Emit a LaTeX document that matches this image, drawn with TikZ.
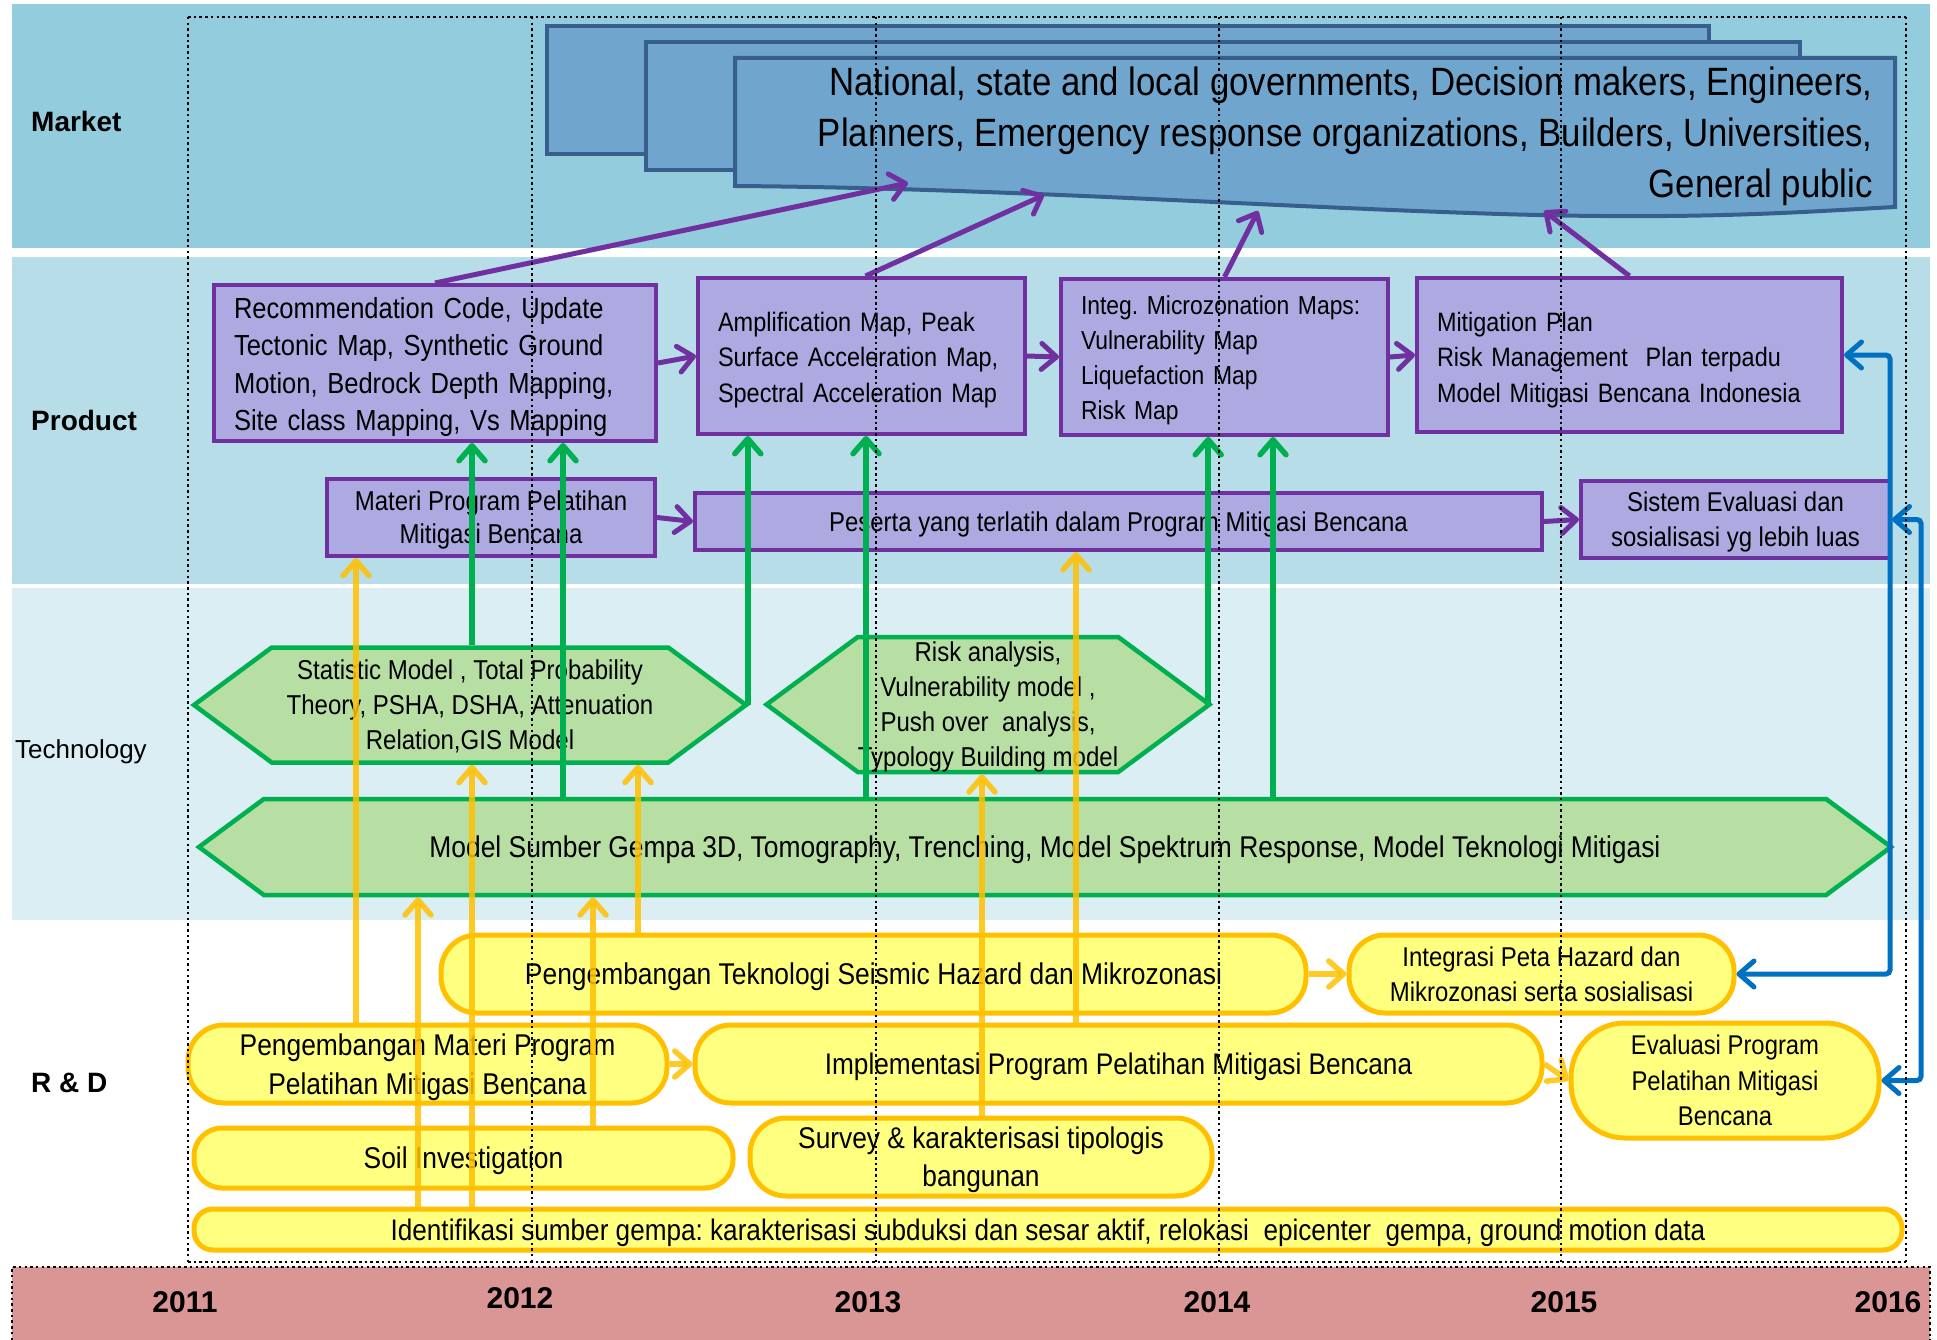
\documentclass[tikz,border=0pt]{standalone}
\usepackage{fontspec}
\setmainfont{Liberation Sans}[FakeStretch=0.88]
\newfontfamily\labelfont{Liberation Sans}
\usetikzlibrary{arrows.meta,shapes.symbols,calc}
\newcommand{\setfs}[2]{\fontsize{#1}{#2}\selectfont}
\frenchspacing

\definecolor{mktband}{RGB}{147,205,221}
\definecolor{prdband}{RGB}{183,222,232}
\definecolor{tecband}{RGB}{218,238,243}
\definecolor{yearband}{RGB}{217,150,148}
\definecolor{mktfill}{RGB}{112,166,206}
\definecolor{mktline}{RGB}{56,94,141}
\definecolor{prdfill}{RGB}{172,170,224}
\definecolor{prdline}{RGB}{112,48,160}
\definecolor{hexfill}{RGB}{183,222,163}
\definecolor{hexline}{RGB}{0,176,80}
\definecolor{rdfill}{RGB}{255,255,128}
\definecolor{rdline}{RGB}{255,192,0}
\definecolor{fbline}{RGB}{0,112,192}

\tikzset{
  rowlbl/.style={anchor=west, inner sep=0pt, font=\labelfont\bfseries\setfs{28}{30}},
  yearlbl/.style={inner sep=0pt, font=\labelfont\bfseries\setfs{30}{32}},
  mktbox/.style={draw=mktline, fill=mktfill, line width=4pt},
  prodbox/.style={draw=prdline, fill=prdfill, line width=4pt, inner sep=0pt},
  hexbox/.style={shape=signal, signal to=east and west, signal pointer angle=73,
    draw=hexline, fill=hexfill, line width=4.5pt, inner sep=0pt, align=center, text depth=0pt},
  rdbox/.style={draw=rdline, fill=rdfill, line width=5pt, inner sep=0pt, align=center, text depth=0pt},
  tip/.style={-{Straight Barb[length=15pt,width=26pt,round]}},
  purplink/.style={draw=prdline, line width=5pt, tip},
  greenlink/.style={draw=hexline, line width=5.5pt, tip},
  yellowlink/.style={draw=rdline, draw opacity=0.85, line width=5.5pt, tip},
  bluelink/.style={draw=fbline, line width=5pt, rounded corners=4pt,
    {Straight Barb[length=15pt,width=26pt,round]}-{Straight Barb[length=15pt,width=26pt,round]}},
  gridline/.style={draw=black, line width=2.2pt, dash pattern=on 2.5pt off 3.2pt}
}

\begin{document}
\begin{tikzpicture}[x=1pt, y=-1pt]
\useasboundingbox (0,0) rectangle (1937,1340);

% horizontal bands
\fill[mktband] (12,4) rectangle (1930,248);
\fill[prdband] (12,257) rectangle (1930,584);
\fill[tecband] (12,588) rectangle (1930,920);
\fill[yearband] (12,1267) rectangle (1930,1340);
\draw[gridline, line width=1.5pt] (12,1340) -- (12,1267) -- (1930,1267) -- (1930,1340);

% row labels
\node[rowlbl] (lmarket) at (31,121) {Market};
\node[rowlbl] (lproduct) at (31,420) {Product};
\node[rowlbl, font=\labelfont\setfs{26}{28}] (ltech) at (15,752) {Technology};
\node[rowlbl] (lrd) at (31,1083) {R \& D};

% years
\node[yearlbl] (y2011) at (185,1302) {2011};
\node[yearlbl] (y2012) at (520,1298) {2012};
\node[yearlbl] (y2013) at (868,1302) {2013};
\node[yearlbl] (y2014) at (1217,1302) {2014};
\node[yearlbl] (y2015) at (1564,1302) {2015};
\node[yearlbl] (y2016) at (1888,1302) {2016};

% market: stacked document shapes
\draw[mktbox] (547,26) rectangle (1709,154);
\draw[mktbox] (646,42) rectangle (1800,170);
\draw[mktbox] (735,186) -- (735,58) -- (1895,58) -- (1895,207)
  .. controls (1800,212) and (1700,220) .. (1500,214)
  .. controls (1250,206) and (1000,188) .. cycle;
\node[align=right, anchor=east, inner sep=0pt, font=\setfs{39.5}{51}] (MK) at (1873,136)
  {National, state and local governments, Decision makers, Engineers,\\
   Planners, Emergency response organizations, Builders, Universities,\\
   General public};
\coordinate (m1) at (908,183);
\coordinate (m2) at (1044,195);
\coordinate (m3) at (1258,211);
\coordinate (m4) at (1544,211);

% products
\node[prodbox, minimum width=442, minimum height=156, text width=402, align=left,
  text depth=111pt, font=\setfs{29}{37.5}] (P1) at (435,363)
  {Recommendation Code, Update\\Tectonic Map, Synthetic Ground\\Motion, Bedrock Depth Mapping,\\Site class Mapping, Vs Mapping};
\node[prodbox, minimum width=327, minimum height=156, text width=287, align=left,
  text depth=69pt, font=\setfs{26.7}{35.5}] (P2) at (861.5,356)
  {Amplification Map, Peak\\Surface Acceleration Map,\\Spectral Acceleration Map};
\node[prodbox, minimum width=327, minimum height=156, text width=287, align=left,
  text depth=103pt, font=\setfs{26}{35}] (P3) at (1224.5,357)
  {Integ. Microzonation Maps:\\Vulnerability Map\\Liquefaction Map\\Risk Map};
\node[prodbox, minimum width=425, minimum height=154, text width=385, align=left,
  text depth=67pt, font=\setfs{26.6}{35.5}] (P4) at (1629.5,355)
  {Mitigation Plan\\Risk Management\ \ Plan terpadu\\Model Mitigasi Bencana Indonesia};
\node[prodbox, minimum width=328, minimum height=77, align=center, text depth=0pt,
  font=\setfs{27.3}{33}] (P5) at (491,517.5)
  {Materi Program Pelatihan\\Mitigasi Bencana};
\node[prodbox, minimum width=847, minimum height=57, align=center, text depth=0pt,
  font=\setfs{27.2}{33}] (P6) at (1118.5,521.5)
  {Peserta yang terlatih dalam Program Mitigasi Bencana};
\node[prodbox, minimum width=309, minimum height=77, align=center, text depth=0pt,
  font=\setfs{27.2}{35}] (P7) at (1735.5,519.5)
  {Sistem Evaluasi dan\\sosialisasi yg lebih luas};

% technologies
\node[hexbox, minimum width=552, minimum height=115, text depth=-10pt, font=\setfs{27.3}{35}] (T1) at (470,705)
  {Statistic Model , Total Probability\\Theory, PSHA, DSHA, Attenuation\\Relation,GIS Model};
\node[hexbox, minimum width=442, minimum height=135, font=\setfs{27.3}{35}] (T2) at (988,704.5)
  {Risk analysis,\\Vulnerability model ,\\Push over\ \ analysis,\\Typology Building model};
\node[hexbox, minimum width=1692, minimum height=96, font=\setfs{30}{35}] (T3) at (1045,847)
  {Model Sumber Gempa 3D, Tomography, Trenching, Model Spektrum Response, Model Teknologi Mitigasi};

% research and development
\node[rdbox, minimum width=865, minimum height=78, rounded corners=36, font=\setfs{30}{35}] (R1) at (873.5,974)
  {Pengembangan Teknologi Seismic Hazard dan Mikrozonasi};
\node[rdbox, minimum width=385, minimum height=78, rounded corners=36, font=\setfs{27.2}{35}] (R2) at (1541.5,974)
  {Integrasi Peta Hazard dan\\Mikrozonasi serta sosialisasi};
\node[rdbox, minimum width=479, minimum height=78, rounded corners=36, font=\setfs{30}{39}] (R3) at (427.5,1064)
  {Pengembangan Materi Program\\Pelatihan Mitigasi Bencana};
\node[rdbox, minimum width=847, minimum height=78, rounded corners=36, font=\setfs{29.8}{35}] (R4) at (1118.5,1064)
  {Implementasi Program Pelatihan Mitigasi Bencana};
\node[rdbox, minimum width=308, minimum height=115, rounded corners=54, font=\setfs{27.1}{35.5}] (R5) at (1725,1080.5)
  {Evaluasi Program\\Pelatihan Mitigasi\\Bencana};
\node[rdbox, minimum width=539, minimum height=60, rounded corners=28, font=\setfs{30}{35}] (R6) at (463.5,1158)
  {Soil Investigation};
\node[rdbox, minimum width=462, minimum height=78, rounded corners=36, font=\setfs{29.9}{38}] (R7) at (981,1157)
  {Survey \& karakterisasi tipologis\\bangunan};
\node[rdbox, minimum width=1708, minimum height=41, rounded corners=19, font=\setfs{29.7}{32}] (R8) at (1048,1229.5)
  {Identifikasi sumber gempa: karakterisasi subduksi dan sesar aktif, relokasi\ \ epicenter\ \ gempa, ground motion data};

% products to market
\draw[purplink] (P1.north) -- (m1);
\draw[purplink] ([xshift=4]P2.north) -- (m2);
\draw[purplink] (P3.north) -- (m3);
\draw[purplink] (P4.north) -- (m4);
% product chains
\draw[purplink] (P1.east) -- (P2.west);
\draw[purplink] (P2.east) -- (P3.west);
\draw[purplink] (P3.east) -- (P4.west);
\draw[purplink] (P5.east) -- (P6.west);
\draw[purplink] (P6.east) -- (P7.west);

% technologies to products
\draw[greenlink] ([xshift=2]T1.north) -- ([xshift=2]T1.north |- P1.south);
\draw[greenlink] ([xshift=-482]T3.north) -- ([xshift=-482]T3.north |- P1.south);
\draw[greenlink] ([xshift=-2]T1.east) -- ([xshift=-2]T1.east |- P2.south);
\draw[greenlink] ([xshift=-179]T3.north) -- ([xshift=-179]T3.north |- P2.south);
\draw[greenlink] ([xshift=-5]T2.east) -- ([xshift=-5]T2.east |- P3.south);
\draw[greenlink] ([xshift=228]T3.north) -- ([xshift=228]T3.north |- P3.south);

% research to technologies and products
\draw[yellowlink] ([xshift=-71.5]R3.north) -- ([xshift=-71.5]R3.north |- P5.south);
\draw[yellowlink] ([xshift=-630]R8.north) -- ([xshift=-630]R8.north |- T3.south);
\draw[yellowlink] ([xshift=-576]R8.north) -- ([xshift=-576]R8.north |- T1.south);
\draw[yellowlink] ([xshift=129.5]R6.north) -- ([xshift=129.5]R6.north |- T3.south);
\draw[yellowlink] ([xshift=-235.5]R1.north) -- ([xshift=-235.5]R1.north |- T1.south);
\draw[yellowlink] ([xshift=1]R7.north) -- ([xshift=1]R7.north |- T2.south);
\draw[yellowlink] ([xshift=-42.5]R4.north) -- ([xshift=-42.5]R4.north |- P6.south);
% research chains
\draw[yellowlink] (R1.east) -- (R2.west);
\draw[yellowlink] (R3.east) -- (R4.west);
\draw[yellowlink] (R4.east) -- (R5.west);

% feedback loops
\coordinate (b1) at (1890,974);
\coordinate (b2) at (1921,1080.5);
\draw[bluelink] (P4.east) -| (b1) -- (R2.east);
\draw[bluelink] (P7.east) -| (b2) -- (R5.east);

% yearly grid
\draw[gridline] (188,17) -- (1906,17);
\draw[gridline] (188,1262) -- (1906,1262);
\foreach \gx in {188,532,876,1219,1561,1906}
  \draw[gridline] (\gx,17) -- (\gx,1262);
\end{tikzpicture}
\end{document}
